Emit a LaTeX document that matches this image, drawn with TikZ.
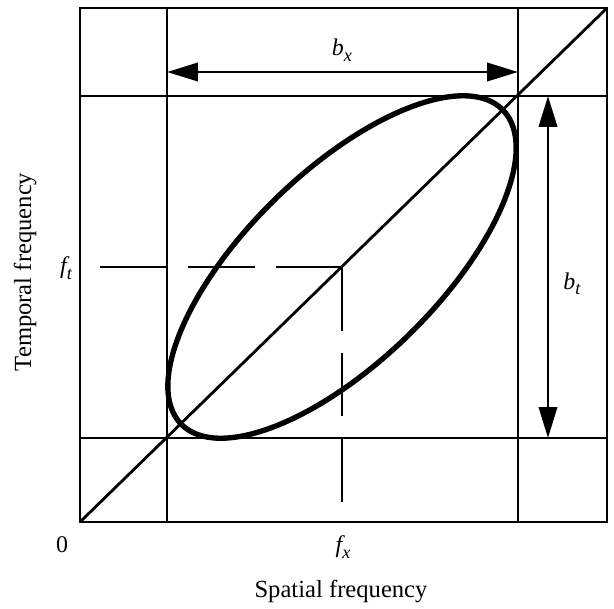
\documentclass[tikz,border=0pt]{standalone}
\usepackage{fontspec}
\setmainfont{Liberation Serif}
\usetikzlibrary{arrows.meta}
\newcommand{\symlab}[2]{{\itshape #1}\raisebox{-0.5ex}{\fontsize{13}{15}\selectfont\itshape #2}}
\begin{document}
\begin{tikzpicture}[x=0.025cm,y=-0.025cm,
  gridline/.style={line width=2pt},
  dashline/.style={line width=2pt},
  ellline/.style={line width=3.8pt},
  dimarrow/.style={line width=2pt,{Triangle[length=22pt,width=13pt]}-{Triangle[length=22pt,width=13pt]}},
  lab/.style={inner sep=0pt,font=\fontsize{17}{20}\selectfont},
  axlab/.style={inner sep=0pt,font=\fontsize{17.5}{21}\selectfont}]
\useasboundingbox (0,0) rectangle (614,608);
% corners
\coordinate (bl) at (80,522);
\coordinate (tr) at (607,8);
\coordinate (c) at (342,267);
% grid lines
\draw[gridline] (bl) rectangle (tr);
\coordinate (v1t) at (167,8);   \coordinate (v1b) at (167,522);
\coordinate (v2t) at (518,8);   \coordinate (v2b) at (518,522);
\coordinate (h1l) at (80,96);   \coordinate (h1r) at (607,96);
\coordinate (h2l) at (80,438);  \coordinate (h2r) at (607,438);
\draw[gridline] (v1t) -- (v1b);
\draw[gridline] (v2t) -- (v2b);
\draw[gridline] (h1l) -- (h1r);
\draw[gridline] (h2l) -- (h2r);
\draw[gridline] (bl) -- (tr);
% ellipse
\draw[ellline,shift={(c)},rotate=44.3] (0,0) ellipse[x radius=5.62cm, y radius=2.38cm];
% dashed lines
\coordinate (dl) at (100,267);
\coordinate (db) at (342,502);
\draw[dashline,dash pattern=on 47.6pt off 14.95pt] (dl) -- (c);
\draw[dashline,dash pattern=on 45.5pt off 15.3pt] (c) -- (db);
% dimension arrows
\coordinate (ax1) at (167,72); \coordinate (ax2) at (518,72);
\coordinate (at1) at (548,96); \coordinate (at2) at (548,438);
\draw[dimarrow] (ax1) -- (ax2);
\draw[dimarrow] (at1) -- (at2);
% labels
\node[lab] (bx) at (342,50) {\symlab{b}{x}};
\node[lab] (bt) at (572,284) {\symlab{b}{t}};
\node[lab] (ft) at (66,268) {\symlab{f}{t}};
\node[lab] (fx) at (343,547) {\symlab{f}{x}};
\node[lab] (zero) at (62,545) {0};
\node[axlab] (sf) at (341,591) {Spatial frequency};
\node[axlab,rotate=90] (tf) at (25,272) {Temporal frequency};
\end{tikzpicture}
\end{document}
